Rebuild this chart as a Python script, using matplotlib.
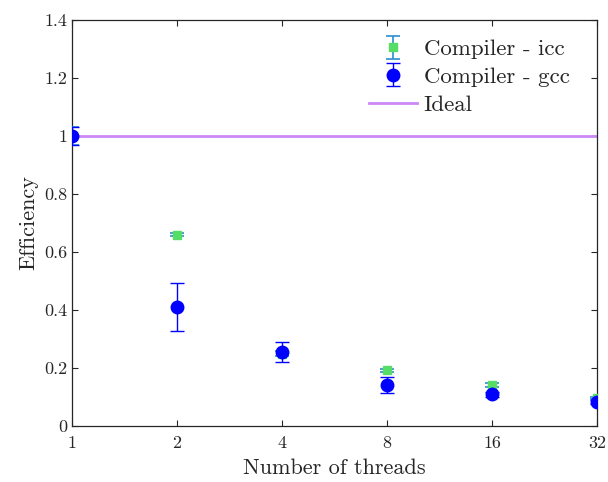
import matplotlib
matplotlib.use("Agg")
import matplotlib.pyplot as plt
import numpy as np

threads = [1, 2, 4, 8, 16, 32]
icc_eff = [1.0, 0.66, 0.25, 0.192, 0.141, 0.096]
icc_err = [0.03, 0.004, 0.01, 0.006, 0.006, 0.004]
gcc_eff = [1.0, 0.41, 0.255, 0.141, 0.109, 0.083]
gcc_err = [0.031, 0.083, 0.035, 0.028, 0.01, 0.008]
ideal = [1.0, 1.0]
ideal_x = [1, 32]
xticks = [1, 2, 4, 8, 16, 32]
yticks = [0, 0.2, 0.4, 0.6, 0.8, 1, 1.2, 1.4]

plt.rcParams['font.family'] = 'serif'
plt.rcParams['font.serif'] = ['cmr10']
plt.rcParams['mathtext.fontset'] = 'cm'
plt.rcParams['axes.formatter.use_mathtext'] = True

fig = plt.figure(figsize=(6.08, 4.82), dpi=100)
ax = fig.add_axes([0.118, 0.116, 0.864, 0.8425])

h1 = ax.errorbar(threads, icc_eff, yerr=icc_err, fmt='s', color='#55dd66', ecolor='#2a8fcf',
                 markersize=6, capsize=5, elinewidth=1.2, capthick=1.2, label='Compiler - icc', zorder=3)
h2 = ax.errorbar(threads, gcc_eff, yerr=gcc_err, fmt='o', color='#0000ff', ecolor='#0000ff',
                 markersize=9, capsize=5, elinewidth=1.0, capthick=1.0, label='Compiler - gcc', zorder=4)
h3, = ax.plot(ideal_x, ideal, color='#cc88f5', lw=2, label='Ideal', zorder=2)

ax.set_xscale('log', base=2)
ax.set_xlim(1, 32)
ax.set_ylim(0, 1.4)
ax.set_xticks(xticks)
ax.set_xticklabels([str(t) for t in xticks])
ax.set_yticks(yticks)
ax.set_yticklabels(['0', '0.2', '0.4', '0.6', '0.8', '1', '1.2', '1.4'])
ax.minorticks_off()
ax.tick_params(direction='in', top=True, right=True, labelsize=13, colors='#262626', length=4)
ax.tick_params(axis='x', pad=7)
for s in ax.spines.values():
    s.set_color('#262626')
    s.set_linewidth(0.9)

ax.set_xlabel('Number of threads', fontsize=16, color='#262626', labelpad=5)
ax.set_ylabel('Efficiency', fontsize=16, color='#262626')

leg = ax.legend([h1, h2, h3], ['Compiler - icc', 'Compiler - gcc', 'Ideal'],
                loc='upper right', bbox_to_anchor=(0.965, 0.975), frameon=False,
                fontsize=16.5, handlelength=2.1, borderaxespad=0.0,
                labelspacing=0.33, handletextpad=0.3)
for t in leg.get_texts():
    t.set_color('#262626')

fig.savefig('out.png', dpi=100)
